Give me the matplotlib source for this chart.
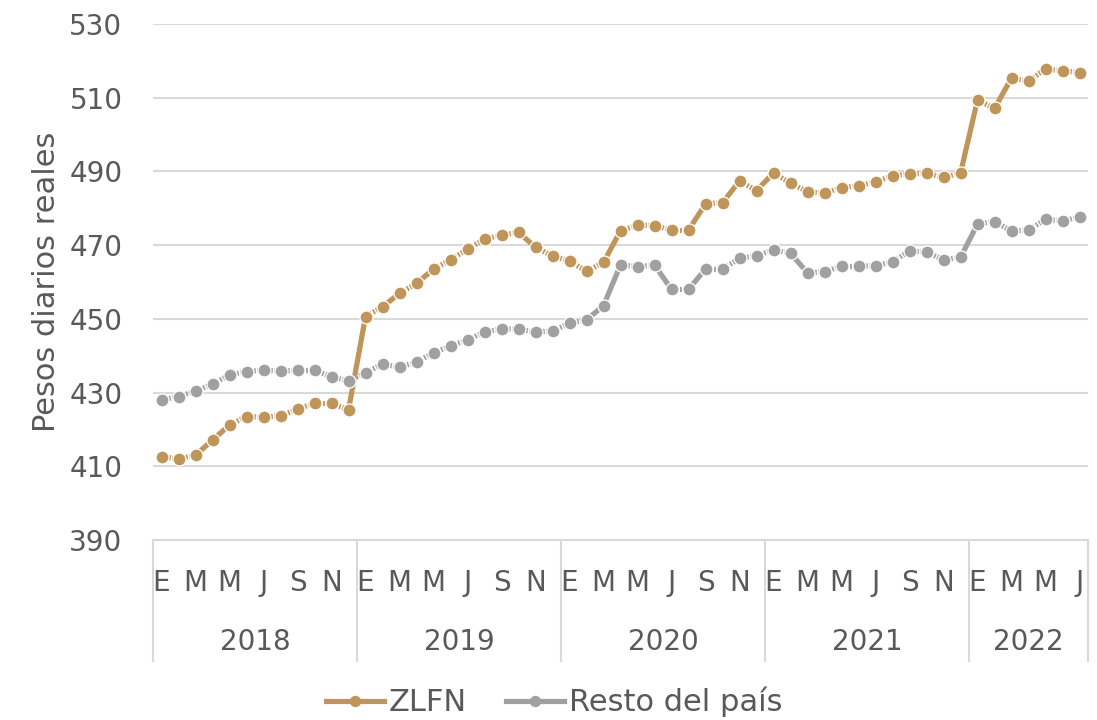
import numpy as np
import matplotlib
matplotlib.use("Agg")
import matplotlib.pyplot as plt
import matplotlib.transforms as mtransforms
from matplotlib.lines import Line2D

plt.rcParams['font.family'] = ['DejaVu Sans']
plt.rcParams['lines.scale_dashes'] = False

years = ["2018", "2019", "2020", "2021", "2022"]
months_per_year = [12, 12, 12, 12, 7]
month_initials = ["E", "F", "M", "A", "M", "J", "J", "A", "S", "O", "N", "D"]

zlfn = [412.6, 412.0, 413.0, 417.1, 421.2, 423.5, 423.3, 423.7, 425.5, 427.1, 427.1, 425.3,
        450.6, 453.3, 456.9, 459.6, 463.5, 466.0, 468.9, 471.6, 472.7, 473.5, 469.4, 467.1,
        465.7, 462.9, 465.3, 473.9, 475.4, 475.3, 474.1, 474.1, 481.2, 481.5, 487.4, 484.8,
        489.6, 486.8, 484.5, 484.1, 485.6, 486.1, 487.2, 488.8, 489.3, 489.5, 488.4, 489.5,
        509.4, 507.1, 515.3, 514.5, 517.8, 517.3, 516.8]
resto = [428.0, 428.9, 430.4, 432.3, 434.8, 435.7, 436.1, 435.8, 436.0, 436.0, 434.3, 433.2,
         435.4, 437.7, 436.9, 438.3, 440.8, 442.6, 444.3, 446.4, 447.3, 447.2, 446.4, 446.7,
         448.8, 449.7, 453.6, 464.6, 464.2, 464.6, 458.0, 458.0, 463.5, 463.5, 466.4, 467.1,
         468.7, 467.8, 462.5, 462.8, 464.3, 464.3, 464.4, 465.5, 468.4, 468.1, 466.0, 466.7,
         475.7, 476.4, 473.8, 474.1, 477.0, 476.6, 477.6]

series = [("ZLFN", zlfn, "#BF9559"), ("Resto del país", resto, "#A0A0A0")]

TXT = "#595959"
GRID = "#D9D9D9"
FS = 20
DPI = 100

month_labels = []
for n in months_per_year:
    month_labels += month_initials[:n]
N = len(month_labels)
x = np.arange(N)

fig = plt.figure(figsize=(10.97, 7.2), dpi=DPI)
ax = fig.add_axes([153 / 1097, 1 - 540 / 720, (1088 - 153) / 1097, 516 / 720])
ax.set_xlim(-0.5, N - 0.5)
ax.set_ylim(390, 530)
ax.set_yticks(np.arange(390, 531, 20))
ax.yaxis.grid(True, color=GRID, linewidth=1.5)
ax.set_axisbelow(True)
for s in ["top", "right", "left"]:
    ax.spines[s].set_visible(False)
ax.spines["bottom"].set_color(GRID)
ax.spines["bottom"].set_linewidth(1.5)
ax.tick_params(axis="y", length=0, labelsize=FS, labelcolor=TXT, pad=22)
ax.set_ylabel("Pesos diarios reales", fontsize=22, color=TXT, labelpad=6)

# month ticks (every other label)
ax.set_xticks(x[::2])
ax.set_xticklabels(month_labels[::2])
ax.tick_params(axis="x", which="major", length=0, labelsize=FS, labelcolor=TXT, pad=21)

# year separators
bounds = np.concatenate([[0], np.cumsum(months_per_year)]) - 0.5
ax.set_xticks(bounds, minor=True)
ax.tick_params(axis="x", which="minor", length=88, width=1.5, color=GRID, direction="out")

trans = mtransforms.blended_transform_factory(ax.transData, ax.transAxes)
for i, yr in enumerate(years):
    mid = (bounds[i] + bounds[i + 1]) / 2
    ax.text(mid, -0.197, yr, transform=trans, ha="center", va="center",
            fontsize=FS, color=TXT)

# lines drawn per segment (dash-dot look on short segments)
lw_px = 5.2
px2pt = 72.0 / DPI
fig.canvas.draw()
for name, vals, col in series:
    pts = ax.transData.transform(np.column_stack([x, vals]))
    for i in range(N - 1):
        L = np.hypot(*(pts[i + 1] - pts[i]))
        if L < 21:
            d1 = (L / 2 - 2.6) * px2pt
            g = 1.6 * px2pt
            dot = 1.8 * px2pt
            ls = (0, (d1, g, dot, g, 200))
        else:
            ls = "-"
        ax.plot(x[i:i + 2], vals[i:i + 2], color=col, linewidth=lw_px * px2pt,
                linestyle=ls, solid_capstyle="butt", dash_capstyle="butt", zorder=3)
    ax.plot(x, vals, linestyle="none", marker="o", markersize=13 * px2pt,
            markerfacecolor=col, markeredgecolor="white", markeredgewidth=1.3 * px2pt,
            zorder=4)

handles = [Line2D([0], [0], color=col, linewidth=lw_px * px2pt, marker="o",
                  markersize=10 * px2pt, markerfacecolor=col, markeredgecolor=col)
           for _, _, col in series]
fig.legend(handles, [s[0] for s in series], loc="center", bbox_to_anchor=(0.505, 1 - 702 / 720),
           ncol=2, frameon=False, fontsize=22, labelcolor=TXT, handlelength=1.9,
           handletextpad=0.15, columnspacing=1.3)

fig.savefig("out.png", dpi=DPI)
